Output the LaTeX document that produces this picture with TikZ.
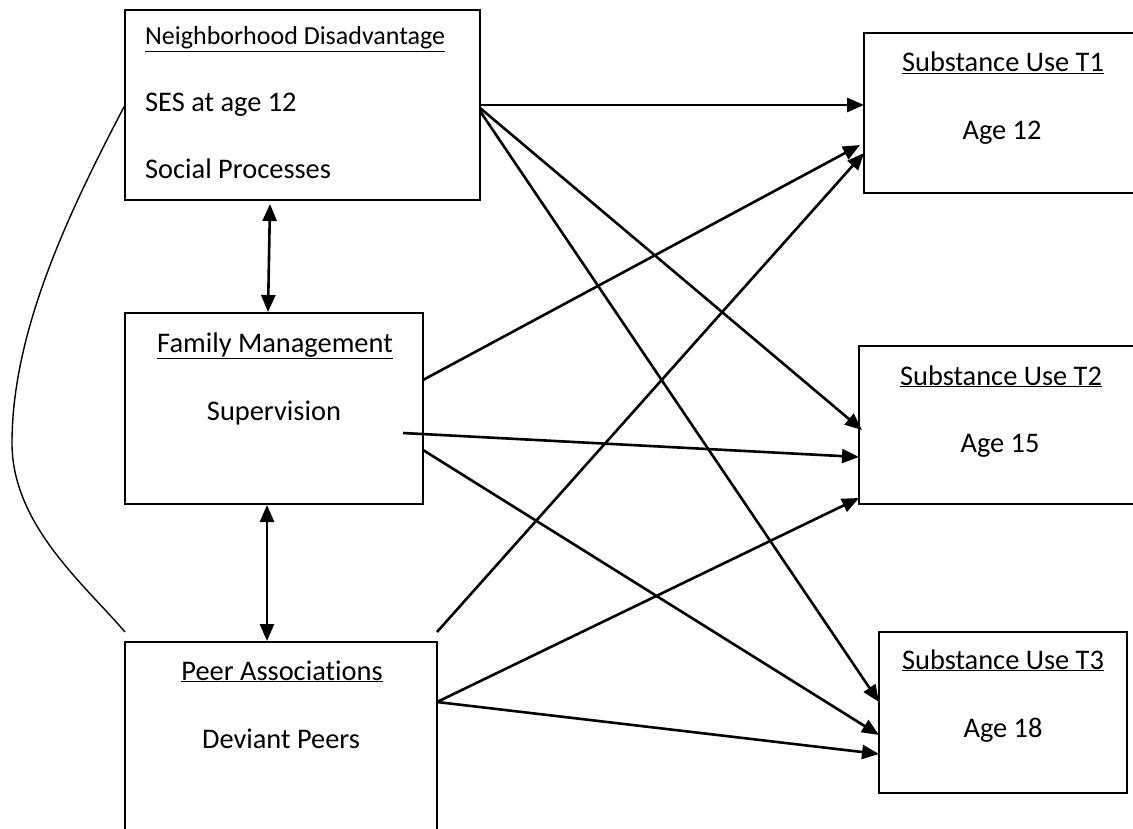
\documentclass[tikz,border=0pt]{standalone}
\usepackage{fontspec}
\setmainfont{Carlito}[Ligatures=NoCommon]
\usetikzlibrary{arrows.meta}
\begin{document}
\begin{tikzpicture}[x=1pt,y=-1pt,
  box/.style={draw,line width=1.8pt,inner sep=0pt},
  lbl/.style={inner sep=0pt,anchor=base,font=\fontsize{28.4}{33}\selectfont},
  lbll/.style={lbl,anchor=base west},
  conn/.style={line width=2.6pt,-{Triangle[length=17pt,width=14pt]}},
  bidir/.style={line width=2.6pt,{Triangle[length=17pt,width=14pt]}-{Triangle[length=17pt,width=14pt]}},
  curveline/.style={line width=1.4pt}
  ]
\clip (0,0) rectangle (1133,829);
\fill[white] (0,0) rectangle (1133,829);

% boxes
\node[box,minimum width=355pt,minimum height=190pt] (N) at (302.5,105) {};
\node[box,minimum width=298pt,minimum height=191pt] (F) at (274,408.5) {};
\node[box,minimum width=312pt,minimum height=200pt] (P) at (281,742) {};
\node[box,minimum width=276pt,minimum height=160pt] (T1) at (1002,113) {};
\node[box,minimum width=281pt,minimum height=158pt] (T2) at (999.5,425) {};
\node[box,minimum width=248pt,minimum height=161pt] (T3) at (1003,712.5) {};

% texts
\node[lbll,font=\fontsize{26}{31}\selectfont] (n-a) at (145,45) {\underline{Neighborhood Disadvantage}};
\node[lbll] (n-b) at (145,112) {SES at age 12};
\node[lbll] (n-c) at (145,179) {Social Processes};
\node[lbl] (f-a) at (275,352) {\underline{Family Management}};
\node[lbl] (f-b) at (274,420) {Supervision};
\node[lbl] (p-a) at (282,680) {\underline{Peer Associations}};
\node[lbl] (p-b) at (281,748) {Deviant Peers};
\node[lbl] (t1-a) at (1003,72) {\underline{Substance Use T1}};
\node[lbl] (t1-b) at (1002,140) {Age 12};
\node[lbl] (t2-a) at (1001,385) {\underline{Substance Use T2}};
\node[lbl] (t2-b) at (1000,452) {Age 15};
\node[lbl] (t3-a) at (1003,669) {\underline{Substance Use T3}};
\node[lbl] (t3-b) at (1003,737) {Age 18};

% connector end points
\coordinate (n1) at (480,105);
\coordinate (n2) at (480,108);
\coordinate (n3) at (480,111);
\coordinate (f1) at (423,380);
\coordinate (f2) at (403,433);
\coordinate (f3) at (423,450);
\coordinate (p1) at (437,632);
\coordinate (p2) at (437,702);
\coordinate (t1a) at (864,105);
\coordinate (t1b) at (860,145);
\coordinate (t1c) at (864,153);
\coordinate (t2a) at (862,430);
\coordinate (t2b) at (859,457);
\coordinate (t2c) at (859,498);
\coordinate (t3a) at (879,702);
\coordinate (t3b) at (879,735);
\coordinate (t3c) at (879,754);
\coordinate (nb) at (270,204);
\coordinate (ft) at (268,312);
\coordinate (fb) at (267,505);
\coordinate (pt) at (267,641);
\coordinate (nl) at (125,105);
\coordinate (cl) at (12,443);
\coordinate (pl) at (125,632);

% connectors
\draw[conn] (n1) -- (t1a);
\draw[conn] (n2) -- (t2a);
\draw[conn] (n3) -- (t3a);
\draw[conn] (f1) -- (t1b);
\draw[conn] (f2) -- (t2b);
\draw[conn] (f3) -- (t3b);
\draw[conn] (p1) -- (t1c);
\draw[conn] (p2) -- (t2c);
\draw[conn] (p2) -- (t3c);
\draw[bidir] (nb) -- (ft);
\draw[bidir] (fb) -- (pt);
\draw[curveline] (nl) .. controls (70,210) and (12,330) .. (cl)
  .. controls (12,525) and (85,585) .. (pl);
\end{tikzpicture}
\end{document}
